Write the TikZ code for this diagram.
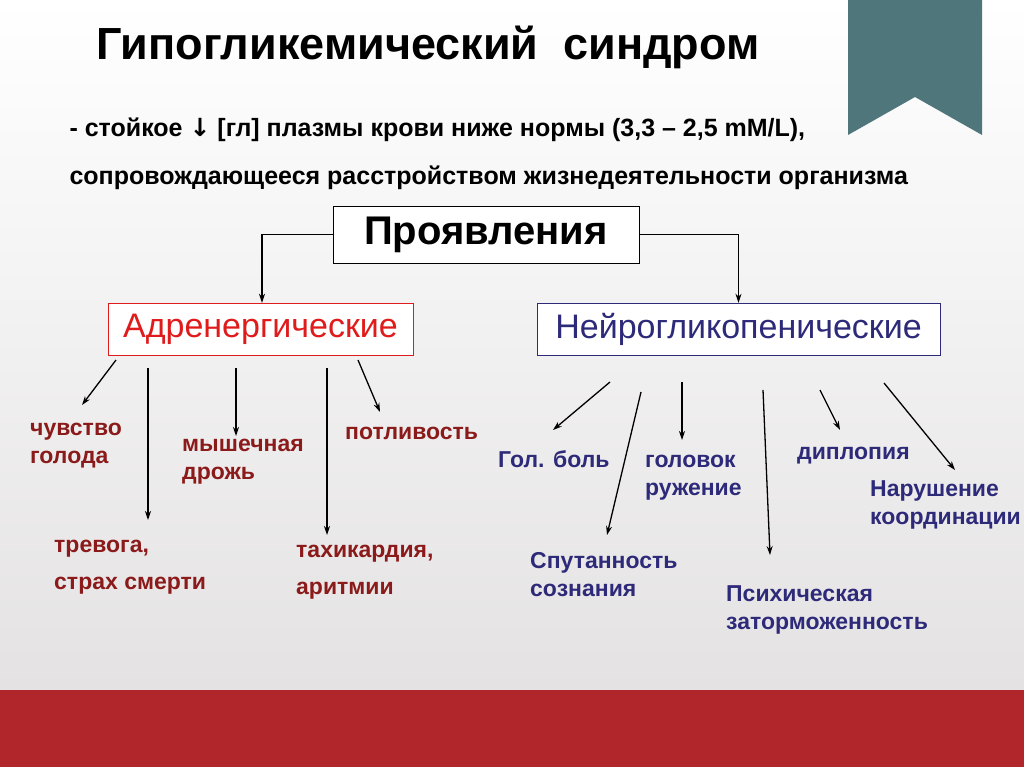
\documentclass[tikz,border=0pt]{standalone}
\usepackage{fontspec}
\setmainfont{Liberation Sans}
\newfontfamily\arrowfont{DejaVu Sans}
\usetikzlibrary{positioning}
\definecolor{bandred}{HTML}{B0262B}
\definecolor{ribbon}{HTML}{4E767B}
\definecolor{adrred}{HTML}{E01B1B}
\definecolor{lblred}{HTML}{8B1A1A}
\definecolor{navy}{HTML}{2E2A7A}
\definecolor{bgtop}{HTML}{FFFFFF}
\definecolor{bgbot}{HTML}{E4E2E2}
\tikzset{
  lblA/.style = {anchor = north west, align = left, font = \bfseries\fontsize{23}{28}\selectfont, text = lblred, inner sep = 0pt},
  lblN/.style = {anchor = north west, align = left, font = \bfseries\fontsize{23}{28}\selectfont, text = navy, inner sep = 0pt},
  arr/.style = {-{Stealth[length = 9pt, width = 6pt]}, line width = 1.3pt}
}
\usetikzlibrary{arrows.meta}
\begin{document}
\begin{tikzpicture}[x = 1pt, y = -1pt]
        % Background
        \useasboundingbox (0, 0) rectangle (1024, 767);
        \shade [top color = bgtop, bottom color = bgbot] (0, 0) rectangle (1024, 690);
        \fill [bandred] (0, 690) rectangle (1024, 767);
        \fill [ribbon] (848, 0) -- (982, 0) -- (982, 135) -- (915, 97) -- (848, 135) -- cycle;

        % Title and definition
        \node [anchor = west, font = \bfseries\fontsize{45}{50}\selectfont] (title) at (93, 47) {Гипогликемический\ \ синдром};
        \node [anchor = west, font = \bfseries\fontsize{25}{28}\selectfont] (def1) at (66, 130) {- стойкое {\arrowfont ↓} [гл] плазмы крови ниже нормы (3,3 – 2,5 mM/L),};
        \node [anchor = west, font = \bfseries\fontsize{25}{28}\selectfont] (def2) at (66, 178) {сопровождающееся расстройством жизнедеятельности организма};

        % Boxes
        \node [draw, fill = white, minimum width = 306pt, minimum height = 57pt, font = \bfseries\fontsize{40}{44}\selectfont] (main) at (486, 234.5) {Проявления};
        \node [draw = adrred, fill = white, text = adrred, minimum width = 305pt, minimum height = 52pt, font = \fontsize{34}{38}\selectfont] (adr) at (260.5, 329) {Адренергические};
        \node [draw = navy, fill = white, text = navy, minimum width = 403pt, minimum height = 52pt, font = \fontsize{34}{38}\selectfont] (neu) at (738.5, 329) {Нейрогликопенические};

        % Links from main box
        \draw [arr] (main.west) -| (adr.north -| 262, 0);
        \draw [arr] (main.east) -| (neu.north);

        % Adrenergic labels
        \node [lblA] (golod) at (30, 423) {чувство\\голода};
        \node [lblA] (drozh) at (182, 439) {мышечная\\дрожь};
        \node [lblA] (pot) at (345, 427) {потливость};
        \node [lblA] (trev) at (54, 540) {тревога,\\[9pt]страх смерти};
        \node [lblA] (tahi) at (296, 545) {тахикардия,\\[9pt]аритмии};

        % Neuroglycopenic labels
        \node [lblN] (bol) at (498, 450) {Гол. боль};
        \node [lblN] (kruzh) at (645, 455) {головок\\ружение};
        \node [lblN] (dipl) at (797, 447) {диплопия};
        \node [lblN] (koord) at (870, 480) {Нарушение\\координации};
        \node [lblN] (sput) at (530, 552) {Спутанность\\сознания};
        \node [lblN] (psih) at (726, 585) {Психическая\\заторможенность};

        % Adrenergic arrows
        \coordinate (a1) at (116, 360); \coordinate (a1e) at (82, 405);
        \coordinate (a2) at (148, 368); \coordinate (a2e) at (148, 520);
        \coordinate (a3) at (236, 368); \coordinate (a3e) at (236, 436);
        \coordinate (a4) at (327, 368); \coordinate (a4e) at (327, 535);
        \coordinate (a5) at (358, 360); \coordinate (a5e) at (380, 412);
        \draw [arr] (a1) -- (a1e);
        \draw [arr] (a2) -- (a2e);
        \draw [arr] (a3) -- (a3e);
        \draw [arr] (a4) -- (a4e);
        \draw [arr] (a5) -- (a5e);

        % Neuroglycopenic arrows
        \coordinate (n1) at (610, 382); \coordinate (n1e) at (553, 430);
        \coordinate (n2) at (641, 392); \coordinate (n2e) at (607, 535);
        \coordinate (n3) at (682, 382); \coordinate (n3e) at (682, 440);
        \coordinate (n4) at (763, 390); \coordinate (n4e) at (770, 555);
        \coordinate (n5) at (820, 390); \coordinate (n5e) at (840, 430);
        \coordinate (n6) at (884, 383); \coordinate (n6e) at (955, 470);
        \draw [arr] (n1) -- (n1e);
        \draw [arr] (n2) -- (n2e);
        \draw [arr] (n3) -- (n3e);
        \draw [arr] (n4) -- (n4e);
        \draw [arr] (n5) -- (n5e);
        \draw [arr] (n6) -- (n6e);
\end{tikzpicture}
\end{document}
